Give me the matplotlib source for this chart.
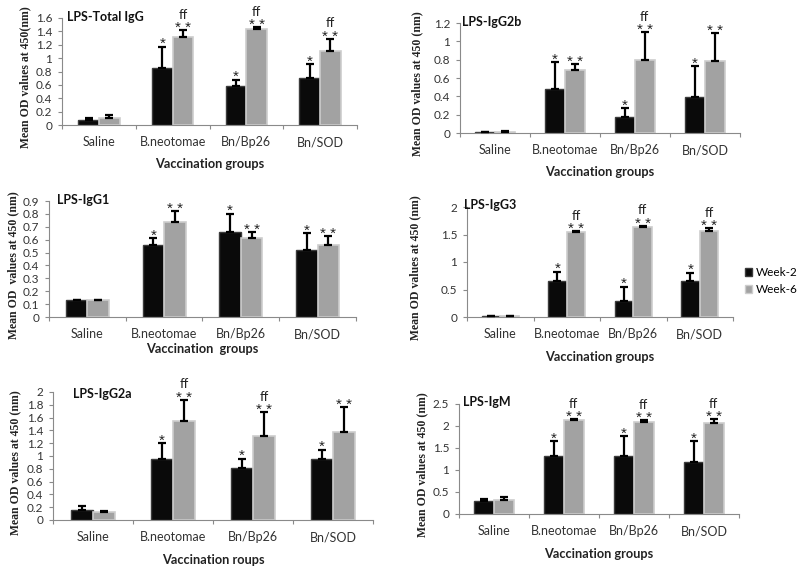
import matplotlib
matplotlib.use("Agg")
import matplotlib.pyplot as plt
import numpy as np
from matplotlib.patches import Patch

categories = ["Saline", "B.neotomae", "Bn/Bp26", "Bn/SOD"]
series_names = ["Week-2", "Week-6"]

# Panel data: means and upper error (SD) amounts
total_igg_w2 = [0.07, 0.85, 0.58, 0.71]
total_igg_w2_err = [0.03, 0.32, 0.10, 0.20]
total_igg_w6 = [0.10, 1.32, 1.43, 1.11]
total_igg_w6_err = [0.05, 0.10, 0.03, 0.18]

igg2b_w2 = [0.01, 0.48, 0.18, 0.39]
igg2b_w2_err = [0.005, 0.29, 0.09, 0.34]
igg2b_w6 = [0.015, 0.69, 0.80, 0.79]
igg2b_w6_err = [0.005, 0.06, 0.30, 0.30]

igg1_w2 = [0.13, 0.56, 0.66, 0.52]
igg1_w2_err = [0.004, 0.05, 0.14, 0.13]
igg1_w6 = [0.13, 0.74, 0.61, 0.56]
igg1_w6_err = [0.004, 0.08, 0.05, 0.07]

igg3_w2 = [0.01, 0.66, 0.29, 0.65]
igg3_w2_err = [0.005, 0.16, 0.26, 0.15]
igg3_w6 = [0.01, 1.55, 1.63, 1.57]
igg3_w6_err = [0.005, 0.01, 0.03, 0.05]

igg2a_w2 = [0.16, 0.96, 0.81, 0.95]
igg2a_w2_err = [0.06, 0.24, 0.15, 0.15]
igg2a_w6 = [0.13, 1.55, 1.31, 1.38]
igg2a_w6_err = [0.01, 0.33, 0.37, 0.39]

igm_w2 = [0.30, 1.32, 1.32, 1.19]
igm_w2_err = [0.04, 0.33, 0.45, 0.46]
igm_w6 = [0.31, 2.13, 2.09, 2.07]
igm_w6_err = [0.07, 0.03, 0.05, 0.09]

# significance labels
sig_w2_all = ["", "*", "*", "*"]
sig_w6_all = ["", "**", "**", "**"]
ff_all = ["", "ff", "ff", "ff"]
ff_none = ["", "", "", ""]
ff_igg2b = ["", "", "ff", ""]
ff_igg2a = ["", "ff", "ff", ""]

titles = ["LPS-Total IgG", "LPS-IgG2b", "LPS-IgG1", "LPS-IgG3", "LPS-IgG2a", "LPS-IgM"]
ylabels = ["Mean OD values at 450(nm)", "Mean OD values at 450 (nm)",
           "Mean OD  values at 450 (nm)", "Mean OD values at 450 (nm)",
           "Mean OD values at 450 (nm)", "Mean OD values at 450 (nm)"]
xlabels = ["Vaccination groups", "Vaccination groups", "Vaccination  groups",
           "Vaccination groups", "Vaccination roups", "Vaccination groups"]
y_max = [1.6, 1.2, 0.9, 2.0, 2.0, 2.5]
y_step = [0.2, 0.2, 0.1, 0.5, 0.2, 0.5]

panels = [
    (total_igg_w2, total_igg_w2_err, total_igg_w6, total_igg_w6_err, ff_all),
    (igg2b_w2, igg2b_w2_err, igg2b_w6, igg2b_w6_err, ff_igg2b),
    (igg1_w2, igg1_w2_err, igg1_w6, igg1_w6_err, ff_none),
    (igg3_w2, igg3_w2_err, igg3_w6, igg3_w6_err, ff_all),
    (igg2a_w2, igg2a_w2_err, igg2a_w6, igg2a_w6_err, ff_igg2a),
    (igm_w2, igm_w2_err, igm_w6, igm_w6_err, ff_all),
]

# layout in pixels: left, right, top, bottom
W, H = 800, 570
boxes_px = [
    (62, 357, 18, 125),
    (460, 740, 23, 133),
    (49, 356, 201, 317),
    (467, 733, 207, 317),
    (53, 373, 392, 520),
    (459, 739, 404, 514),
]
ylabel_x_px = [25, 417, 13, 415, 15, 422]
xlabel_y_px = [164, 172, 349, 357, 560, 554]
title_px = [(67, 17), (462, 22), (57, 200), (464, 205), (73, 394), (463, 402)]

SANS = ["Lato", "DejaVu Sans"]
SERIF = ["Liberation Serif", "DejaVu Serif"]
STAR = ["Liberation Sans", "DejaVu Sans"]
plt.rcParams["font.family"] = SANS

fig = plt.figure(figsize=(8, 5.7), dpi=100)
fig.patch.set_facecolor("white")

black_c = "#0a0a0a"
gray_c = "#a2a2a2"
spine_c = "#8a8a8a"
bw = 0.28

for i, (w2, w2e, w6, w6e, ffl) in enumerate(panels):
    l, r, t, b = boxes_px[i]
    ax = fig.add_axes([l / W, 1 - b / H, (r - l) / W, (b - t) / H])
    x = np.arange(len(categories))
    ax.bar(x - bw / 2, w2, width=bw, color=black_c, edgecolor="#3c3c3c", linewidth=1.0, zorder=2)
    ax.bar(x + bw / 2, w6, width=bw, color=gray_c, edgecolor="#cdcdcd", linewidth=1.2, zorder=2)
    ax.errorbar(x - bw / 2, w2, yerr=[np.zeros(len(w2)), w2e], fmt="none", ecolor="black",
                elinewidth=1.6, capsize=3, capthick=1.6, zorder=3)
    ax.errorbar(x + bw / 2, w6, yerr=[np.zeros(len(w6)), w6e], fmt="none", ecolor="black",
                elinewidth=1.6, capsize=3, capthick=1.6, zorder=3)
    # significance marks
    for j in range(len(categories)):
        top2 = w2[j] + w2e[j]
        top6 = w6[j] + w6e[j]
        if sig_w2_all[j]:
            ax.annotate(sig_w2_all[j], (x[j] - bw / 2, top2), xytext=(0, 2), textcoords="offset points",
                        ha="center", va="center", fontsize=11, family=STAR, color="#222222",
                        annotation_clip=False, zorder=4)
        if sig_w6_all[j]:
            ax.annotate(" ".join(sig_w6_all[j]), (x[j] + bw / 2, top6), xytext=(0, 1.5),
                        textcoords="offset points", ha="center", va="center", fontsize=11,
                        family=STAR, color="#222222", annotation_clip=False, zorder=4)
        if ffl[j]:
            ax.annotate(ffl[j], (x[j] + bw / 2, top6), xytext=(0, 11), textcoords="offset points",
                        ha="center", va="center", fontsize=9.5, color="#222222", annotation_clip=False)

    ax.set_xlim(-0.5, len(categories) - 0.5)
    ax.set_ylim(0, y_max[i])
    ticks = np.arange(0, y_max[i] + y_step[i] / 2, y_step[i])
    ax.set_yticks(ticks)
    ax.set_yticklabels([f"{v:g}" for v in np.round(ticks, 2)], fontsize=8.5, color="#333333")
    ax.set_xticks(x)
    ax.set_xticklabels(categories, fontsize=9, color="#333333")
    ax.set_xticks(np.arange(-0.5, len(categories)), minor=True)
    ax.tick_params(axis="x", which="major", length=0, pad=8)
    ax.tick_params(axis="x", which="minor", length=3, color=spine_c, width=0.8)
    ax.tick_params(axis="y", length=3, color=spine_c, width=0.8, pad=4)
    for s in ["top", "right"]:
        ax.spines[s].set_visible(False)
    for s in ["left", "bottom"]:
        ax.spines[s].set_color(spine_c)
        ax.spines[s].set_linewidth(0.8)
    ax.set_facecolor("none")

    hpx = b - t
    wpx = r - l
    ax.set_xlabel(xlabels[i], fontsize=9.2, fontweight="bold", color="#222222")
    ax.xaxis.set_label_coords(0.5, -(xlabel_y_px[i] - b) / hpx)
    ax.xaxis.label.set_va("center")
    ax.set_ylabel(ylabels[i], fontsize=8.5, fontweight="bold", family=SERIF, color="#222222")
    ax.yaxis.set_label_coords(-(l - ylabel_x_px[i]) / wpx, 0.45)
    ax.yaxis.label.set_va("center")
    tx, ty = title_px[i]
    ax.text((tx - l) / wpx, 1 - (ty - t) / hpx, titles[i], transform=ax.transAxes,
            fontsize=9, fontweight="bold", ha="left", va="center", color="#111111")

handles = [Patch(facecolor=black_c, edgecolor="#3c3c3c"), Patch(facecolor=gray_c, edgecolor="#cdcdcd")]
fig.legend(handles, series_names, loc="center left", bbox_to_anchor=(740 / W, 1 - 281 / H),
           frameon=False, fontsize=8.5, handlelength=0.6, handleheight=0.6, handletextpad=0.3,
           labelspacing=0.5, borderpad=0.2, borderaxespad=0.2)

fig.savefig("out.png", dpi=100, facecolor="white")
